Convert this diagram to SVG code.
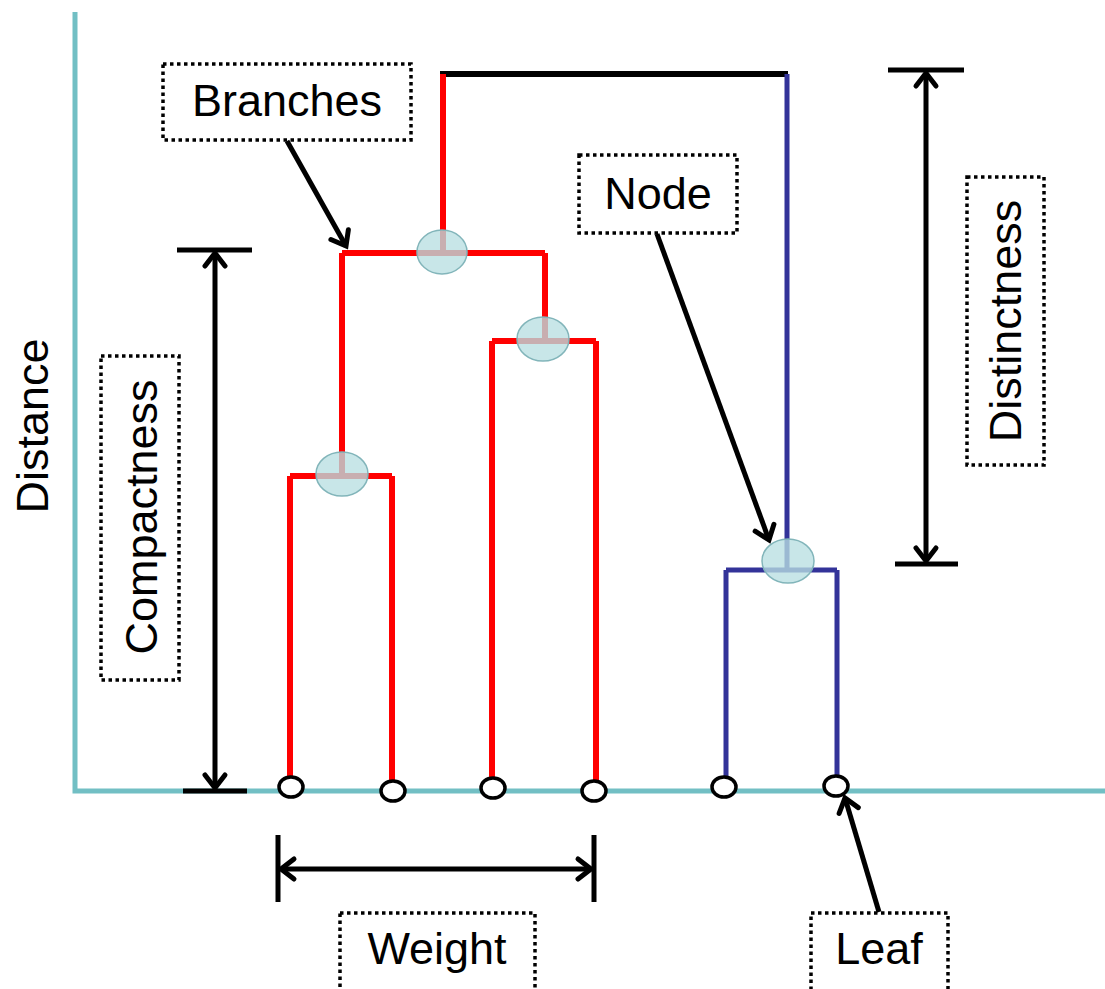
<svg xmlns="http://www.w3.org/2000/svg" width="1105" height="989" viewBox="0 0 1105 989">
<defs>
<marker id="open" markerUnits="userSpaceOnUse" markerWidth="30" markerHeight="30" viewBox="-20 -15 25 30" refX="0" refY="0" orient="auto-start-reverse">
<path d="M -13 -10 L 0 0 L -13 10" fill="none" stroke="#000" stroke-width="5" stroke-linecap="round" stroke-linejoin="miter"/>
</marker>
<style>
.axis{stroke:#72bfc4;stroke-width:5;fill:none}
.red{stroke:#ff0000;stroke-width:6;fill:none}
.blue{stroke:#333399;stroke-width:5;fill:none}
.root{stroke:#000;stroke-width:6;fill:none}
.node{fill:#b9dfe2;fill-opacity:0.78;stroke:#82b5ba;stroke-width:1.5}
.leaf{fill:#fff;stroke:#000;stroke-width:3.5}
.bar{stroke:#000;stroke-width:5;fill:none}
.arr{stroke:#000;stroke-width:5;fill:none}
.box{fill:#fff;stroke:#000;stroke-width:3.5;stroke-dasharray:3.5 3.5}
.lbl{font-family:"Liberation Sans",Arial,sans-serif;font-size:45px;fill:#000;text-anchor:middle}
</style>
</defs>
<g id="axes">
<path class="axis" d="M75 12 L75 791 L1105 791"/>
<text class="lbl" transform="translate(48,426) rotate(-90)">Distance</text>
</g>
<g id="connectors">
<path class="root" d="M440 74 L788 74"/>
<path class="red" d="M443 74 L443 253"/>
<path class="red" d="M342 253 L545 253"/>
<path class="red" d="M342 253 L342 476"/>
<path class="red" d="M290 476 L392 476"/>
<path class="red" d="M290 476 L290 779"/>
<path class="red" d="M392 476 L392 782"/>
<path class="red" d="M545 253 L545 341"/>
<path class="red" d="M492 341 L596 341"/>
<path class="red" d="M492 341 L492 778"/>
<path class="red" d="M596 341 L596 782"/>
<path class="blue" d="M787 74 L787 570"/>
<path class="blue" d="M726 570 L837 570"/>
<path class="blue" d="M726 570 L726 779"/>
<path class="blue" d="M837 570 L837 777"/>
</g>
<g id="internal-nodes">
<ellipse id="node-top" class="node" cx="442" cy="252" rx="25" ry="22"/>
<ellipse id="node-right" class="node" cx="543" cy="339" rx="26" ry="22"/>
<ellipse id="node-left" class="node" cx="342" cy="474" rx="26" ry="22"/>
<ellipse id="node-blue" class="node" cx="788" cy="561" rx="26" ry="22"/>
</g>
<g id="leaves">
<ellipse class="leaf" cx="291" cy="787" rx="12" ry="10"/>
<ellipse class="leaf" cx="393" cy="791" rx="12" ry="10"/>
<ellipse class="leaf" cx="493" cy="788" rx="12" ry="10"/>
<ellipse class="leaf" cx="594" cy="791" rx="12" ry="10"/>
<ellipse class="leaf" cx="724" cy="787" rx="12" ry="10"/>
<ellipse class="leaf" cx="836" cy="786" rx="12" ry="10"/>
</g>
<g id="compactness">
<path class="bar" d="M177 250 L252 250 M183 791 L247 791"/>
<path class="arr" d="M215 253 L215 788" marker-start="url(#open)" marker-end="url(#open)"/>
<rect class="box" x="101" y="356" width="78" height="324"/>
<text class="lbl" transform="translate(157,517) rotate(-90)">Compactness</text>
</g>
<g id="distinctness">
<path class="bar" d="M888 70 L964 70 M895 564 L958 564"/>
<path class="arr" d="M926 73 L926 561" marker-start="url(#open)" marker-end="url(#open)"/>
<rect class="box" x="967" y="177" width="77" height="288"/>
<text class="lbl" transform="translate(1021,321) rotate(-90)">Distinctness</text>
</g>
<g id="branches-label">
<rect class="box" x="163" y="64" width="248" height="76"/>
<text class="lbl" x="287" y="116">Branches</text>
<path class="arr" d="M287 141 L346 246" marker-end="url(#open)"/>
</g>
<g id="node-label">
<rect class="box" x="579" y="155" width="158" height="78"/>
<text class="lbl" x="658" y="209">Node</text>
<path class="arr" d="M657 234 L769 540" marker-end="url(#open)"/>
</g>
<g id="weight">
<path class="bar" d="M278 835 L278 902 M594 835 L594 902"/>
<path class="arr" d="M281 869 L591 869" marker-start="url(#open)" marker-end="url(#open)"/>
<rect class="box" x="340" y="913" width="195" height="80"/>
<text class="lbl" x="437" y="964">Weight</text>
</g>
<g id="leaf-label">
<rect class="box" x="811" y="913" width="137" height="80"/>
<text class="lbl" x="879" y="964">Leaf</text>
<path class="arr" d="M879 912 L845 798" marker-end="url(#open)"/>
</g>
</svg>
